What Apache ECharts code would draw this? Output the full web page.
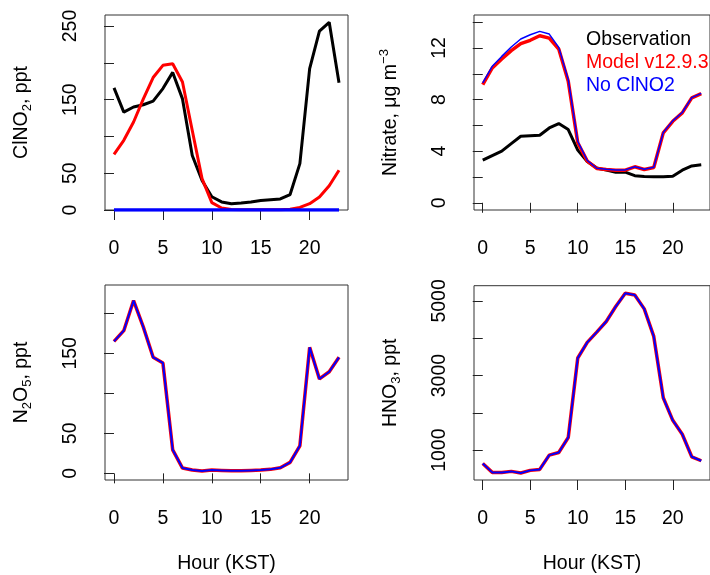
<!DOCTYPE html>
<html>
<head>
<meta charset="utf-8">
<title>ClNO2, nitrate, N2O5 and HNO3 diurnal cycles</title>
<script src="https://cdn.jsdelivr.net/npm/echarts@6/dist/echarts.min.js"></script>
<style>
html, body { margin: 0; padding: 0; background: #fff; }
#chartMain { width: 710px; height: 575px; }
</style>
</head>
<body>
<div id="chartMain"></div>
<script>
// hour of day (KST)
var hours = [0, 1, 2, 3, 4, 5, 6, 7, 8, 9, 10, 11, 12, 13, 14, 15, 16, 17, 18, 19, 20, 21, 22, 23];
var hourTicks = [0, 5, 10, 15, 20];

// ClNO2, ppt
var clno2Obs   = [166, 133, 140, 143, 148, 165, 187, 151, 74, 40, 18, 11, 8.6, 9.5, 11, 13, 14, 15, 21, 63, 192, 243, 255, 173];
var clno2Model = [75.6, 94.7, 119.6, 151, 180, 196.6, 198.8, 174, 108, 42.6, 10, 2.7, 0.8, 0.5, 0.4, 0.4, 0.4, 0.5, 1, 3.5, 8.6, 17.7, 33, 54];
var clno2NoCl  = [0, 0, 0, 0, 0, 0, 0, 0, 0, 0, 0, 0, 0, 0, 0, 0, 0, 0, 0, 0, 0, 0, 0, 0];
var clno2Ticks = [0, 50, 100, 150, 200, 250];
var clno2Labels = [0, 50, 150, 250];

// Nitrate, ug m-3
var no3Obs   = [3.3, 3.66, 4.0, 4.59, 5.16, 5.2, 5.24, 5.8, 6.14, 5.68, 4.08, 3.2, 2.7, 2.53, 2.37, 2.37, 2.1, 2.04, 2.01, 2.01, 2.06, 2.53, 2.86, 2.94];
var no3Model = [9.16, 10.45, 11.15, 11.8, 12.34, 12.6, 12.95, 12.77, 11.92, 9.42, 4.65, 3.23, 2.66, 2.58, 2.53, 2.53, 2.79, 2.58, 2.74, 5.42, 6.32, 6.97, 8.13, 8.46];
var no3NoCl  = [9.29, 10.58, 11.35, 12.08, 12.7, 13.03, 13.29, 13.08, 12.05, 9.55, 4.77, 3.28, 2.68, 2.6, 2.55, 2.55, 2.8, 2.6, 2.76, 5.45, 6.35, 7.0, 8.15, 8.48];
var no3Ticks = [0, 2, 4, 6, 8, 10, 12, 14];
var no3Labels = [0, 4, 8, 12];

// N2O5, ppt
var n2o5Model = [165, 178.3, 216, 182.8, 145, 138, 29.4, 6.6, 4.1, 2.9, 4.1, 3.7, 3.3, 3.3, 3.7, 4.1, 5, 7, 13.7, 34.4, 157.5, 118, 127, 145];
var n2o5NoCl  = [165, 178.3, 216, 182.8, 145, 138, 29.4, 6.6, 4.1, 2.9, 4.1, 3.7, 3.3, 3.3, 3.7, 4.1, 5, 7, 13.7, 34.4, 157.5, 118, 127, 145];
var n2o5Ticks = [0, 50, 100, 150, 200];
var n2o5Labels = [0, 50, 150];

// HNO3, ppt
var hno3Model = [644, 404, 404, 431, 387, 458, 484, 867, 938, 1338, 3471, 3889, 4164, 4449, 4849, 5204, 5160, 4787, 4049, 2404, 1800, 1427, 822, 716];
var hno3NoCl  = [644, 404, 404, 431, 387, 458, 484, 867, 938, 1338, 3471, 3889, 4164, 4449, 4849, 5204, 5160, 4787, 4049, 2404, 1800, 1427, 822, 716];
var hno3Ticks = [1000, 2000, 3000, 4000, 5000];
var hno3Labels = [1000, 3000, 5000];

var FONT = "'Liberation Sans', Arial, Helvetica, sans-serif";
var FS = 19.5;
var myChart = echarts.init(document.getElementById('chartMain'));

function pairs(ys) {
    return hours.map(function(h, i) { return [h, ys[i]]; });
}
function plain(v) { return String(v); } // no thousands separator

var nameRich = {
    sub: { fontSize: 13, lineHeight: 13, verticalAlign: 'bottom', fontFamily: FONT, color: '#000' },
    sup: { fontSize: 13, lineHeight: 13, verticalAlign: 'top', fontFamily: FONT, color: '#000' }
};

function xAxisFor(grid, withName) {
    return {
        type: 'value', gridIndex: grid, min: -0.92, max: 23.92,
        axisLine: { show: false }, splitLine: { show: false },
        axisTick: { show: true, length: 10, customValues: hourTicks, lineStyle: { color: '#222' } },
        axisLabel: { customValues: hourTicks, formatter: plain, margin: 29, fontSize: FS, color: '#000', fontFamily: FONT },
        name: withName ? 'Hour (KST)' : '', nameLocation: 'middle', nameGap: 74,
        nameTextStyle: { fontSize: FS, color: '#000', fontFamily: FONT }
    };
}

function yAxisFor(grid, min, max, ticks, labels, name, gap) {
    return {
        type: 'value', gridIndex: grid, min: min, max: max,
        axisLine: { show: false }, splitLine: { show: false },
        axisTick: { show: true, length: 10, customValues: ticks, lineStyle: { color: '#222' } },
        axisLabel: { customValues: labels, formatter: plain, rotate: 90, margin: 24, fontSize: FS, color: '#000', fontFamily: FONT },
        name: name, nameLocation: 'middle', nameRotate: 90, nameGap: gap,
        nameTextStyle: { fontSize: FS, lineHeight: 25, color: '#000', fontFamily: FONT, rich: nameRich }
    };
}

function line(name, grid, ys, color, width) {
    return {
        name: name, type: 'line', xAxisIndex: grid, yAxisIndex: grid,
        data: pairs(ys), symbol: 'none', silent: true,
        lineStyle: { color: color, width: width }, itemStyle: { color: color }
    };
}

var gridBox = { show: true, borderColor: '#333', borderWidth: 1, backgroundColor: 'transparent' };

option = {
    animation: false,
    backgroundColor: '#fff',
    grid: [
        Object.assign({ left: 105, top: 15, width: 243, height: 195 }, gridBox),
        Object.assign({ left: 474, top: 15, width: 242.5, height: 195 }, gridBox),
        Object.assign({ left: 105, top: 285, width: 243, height: 196 }, gridBox),
        Object.assign({ left: 474, top: 285.7, width: 242.5, height: 195.3 }, gridBox)
    ],
    xAxis: [xAxisFor(0, false), xAxisFor(1, false), xAxisFor(2, true), xAxisFor(3, true)],
    yAxis: [
        yAxisFor(0, 0, 265, clno2Ticks, clno2Labels, 'ClNO{sub|2}, ppt', 71),
        yAxisFor(1, -0.56, 14.56, no3Ticks, no3Labels, 'Nitrate, \u03bcg m{sup|\u22123}', 71),
        yAxisFor(2, -8.3, 235.4, n2o5Ticks, n2o5Labels, 'N{sub|2}O{sub|5}, ppt', 71),
        yAxisFor(3, 200, 5408, hno3Ticks, hno3Labels, 'HNO{sub|3}, ppt', 71)
    ],
    legend: {
        orient: 'vertical', left: 575, top: 25, itemGap: 3,
        itemWidth: 0, itemHeight: 0, selectedMode: false,
        itemStyle: { opacity: 0 }, lineStyle: { opacity: 0 },
        textStyle: { fontSize: FS, fontFamily: FONT },
        data: [
            { name: 'Observation', textStyle: { color: '#000' } },
            { name: 'Model v12.9.3', textStyle: { color: '#ff0000' } },
            { name: 'No ClNO2', textStyle: { color: '#0000ff' } }
        ]
    },
    series: [
        line('Observation', 0, clno2Obs, '#000', 3),
        line('Model v12.9.3', 0, clno2Model, '#ff0000', 3),
        line('No ClNO2', 0, clno2NoCl, '#0000ff', 3.5),

        line('Observation', 1, no3Obs, '#000', 3),
        line('Model v12.9.3', 1, no3Model, '#ff0000', 3.5),
        line('No ClNO2', 1, no3NoCl, '#0000ff', 1.5),

        line('Model v12.9.3', 2, n2o5Model, '#ff0000', 3.5),
        line('No ClNO2', 2, n2o5NoCl, '#0000ff', 2),

        line('Model v12.9.3', 3, hno3Model, '#ff0000', 3.5),
        line('No ClNO2', 3, hno3NoCl, '#0000ff', 2)
    ]
};

myChart.setOption(option);
</script>
</body>
</html>
